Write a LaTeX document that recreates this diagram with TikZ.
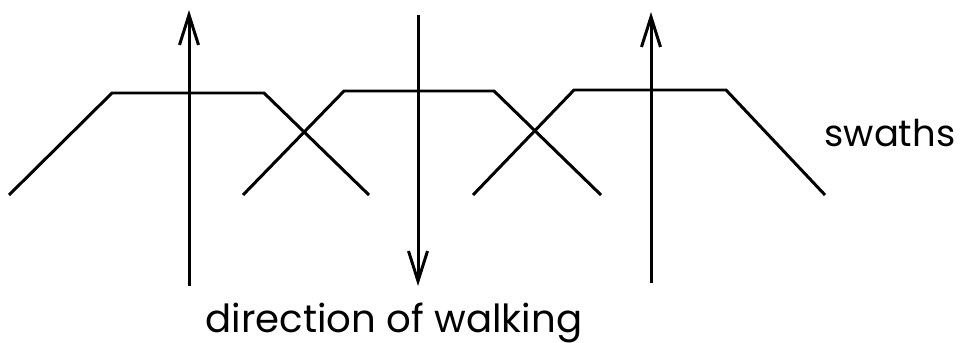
\documentclass[tikz,border=0pt]{standalone}
\usepackage{fontspec}
\setmainfont{Poppins}
\usetikzlibrary{arrows.meta}
\tikzset{
  swath/.style ={draw=black, line width=0.85pt, line join=miter},
  walk/.style  ={-{Straight Barb[length=3mm, width=1.9mm, line width=0.85pt]}, draw=black, line width=0.85pt},
  label/.style ={font=\fontsize{11}{13}\selectfont, inner sep=0pt},
}
\begin{document}
\begin{tikzpicture}[x=0.01cm, y=-0.01cm]
\useasboundingbox (0,0) rectangle (962,343);

% ---- swaths (trapezoids) ----
\foreach \a/\b/\c/\d/\t in {9/112/264/369/93, 243/344/494/601/91, 473/574/726/825/90}
  \draw[swath] (\a,195) -- (\b,\t) -- (\c,\t) -- (\d,195);

% ---- walking lines ----
\coordinate (w1s) at (189,286); \coordinate (w1e) at (189,10);
\coordinate (w2s) at (418,15);  \coordinate (w2e) at (418,286);
\coordinate (w3s) at (651,283); \coordinate (w3e) at (651,12);
\foreach \w in {w1,w2,w3}
  \draw[walk] (\w s) -- (\w e);

% ---- labels ----
\node[label, font=\fontsize{10.5}{12}\selectfont, anchor=base east] (sw) at (956,147) {swaths};
\node[label, anchor=base] (dir) at (394,332) {direction of walking};

\end{tikzpicture}
\end{document}
